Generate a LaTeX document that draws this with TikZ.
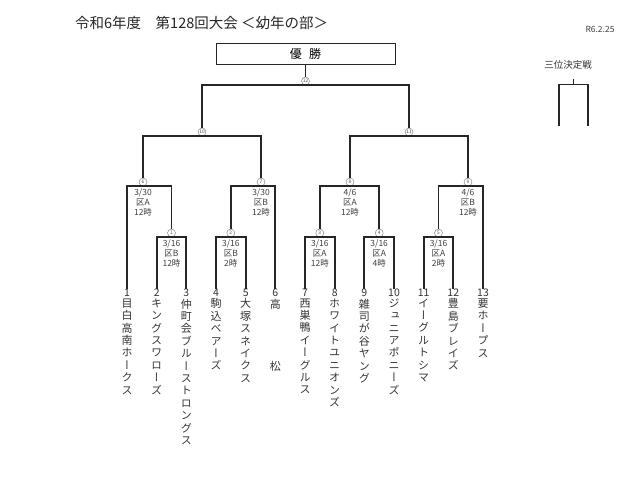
\documentclass[tikz,border=0pt]{standalone}
\usepackage{fontspec}
\newfontfamily\jpfont{Noto Sans CJK JP}
\newfontfamily\jptate[RawFeature=+vert]{Noto Sans CJK JP}
\usetikzlibrary{positioning}

\makeatletter
\newcommand\tate[1]{\vtop{\baselineskip=12.4pt\@tfor\tc:=#1\do{\hbox to 11pt{\hss\tc\hss}}}}
\makeatother

\begin{document}
\begin{tikzpicture}[x=1pt,y=-1pt,
	roundnode/.style={circle,draw=black!55,fill=white,inner sep=0pt,minimum size=8pt,text=black!70,font=\jpfont\fontsize{4.8}{5}\selectfont},
	teamno/.style={inner sep=0pt,text=black!80,font=\jpfont\fontsize{10.5}{11}\selectfont},
	teamname/.style={inner sep=0pt,text=black!80,font=\jptate\fontsize{11}{12.4}\selectfont},
	info/.style={inner sep=0pt,align=center,text=black!75,font=\jpfont\fontsize{8.5}{10.4}\selectfont},
	bracket/.style={line width=1.8pt,black!85}]
		\useasboundingbox (0,0) rectangle (640,479);

		\node[anchor=west,inner sep=0pt,text=black!85,font=\jpfont\fontsize{14.5}{15}\selectfont]	(title)	at (75,23)		{令和6年度　第128回大会 ＜幼年の部＞};
		\node[inner sep=0pt,text=black!75,font=\jpfont\fontsize{8.5}{9}\selectfont]		(date)	at (600,29)		{R6.2.25};
		\node[draw=black!85,line width=0.8pt,minimum width=179pt,minimum height=21pt,font=\jpfont\fontsize{12}{13}\selectfont]	(win)	at (305.5,53.5)	{優\hspace{0.6em}勝};
		\node[inner sep=0pt,text=black!80,font=\jpfont\fontsize{9.5}{10}\selectfont]		(third)	at (568,65)		{三位決定戦};

		\node[roundnode]	(12)	at (305.5,81)	{12};
		\node[roundnode]	(10)	at (202,132)	{10};
		\node[roundnode]	(11)	at (409,132)	{11};
		\node[roundnode]	(6)		at (143,182)	{6};
		\node[roundnode]	(7)		at (261,182)	{7};
		\node[roundnode]	(8)		at (350,182)	{8};
		\node[roundnode]	(9)		at (468,182)	{9};
		\node[roundnode]	(1)		at (171.5,233)	{1};
		\node[roundnode]	(2)		at (230.8,233)	{2};
		\node[roundnode]	(3)		at (319.8,233)	{3};
		\node[roundnode]	(4)		at (379.2,233)	{4};
		\node[roundnode]	(5)		at (438.5,233)	{5};

		\node[info,below=2pt of 6]	(info6)	{3/30\\区A\\12時};
		\node[info,below=2pt of 7]	(info7)	{3/30\\区B\\12時};
		\node[info,below=2pt of 8]	(info8)	{4/6\\区A\\12時};
		\node[info,below=2pt of 9]	(info9)	{4/6\\区B\\12時};
		\node[info,below=2pt of 1]	(info1)	{3/16\\区B\\12時};
		\node[info,below=2pt of 2]	(info2)	{3/16\\区B\\2時};
		\node[info,below=2pt of 3]	(info3)	{3/16\\区A\\12時};
		\node[info,below=2pt of 4]	(info4)	{3/16\\区A\\4時};
		\node[info,below=2pt of 5]	(info5)	{3/16\\区A\\2時};

		\node[teamno]	(t1)	at (127,293)	{1};
		\node[teamno]	(t2)	at (156.7,293)	{2};
		\node[teamno]	(t3)	at (186.3,293)	{3};
		\node[teamno]	(t4)	at (216,293)	{4};
		\node[teamno]	(t5)	at (245.7,293)	{5};
		\node[teamno]	(t6)	at (275.3,293)	{6};
		\node[teamno]	(t7)	at (305,293)	{7};
		\node[teamno]	(t8)	at (334.7,293)	{8};
		\node[teamno]	(t9)	at (364.3,293)	{9};
		\node[teamno]	(t10)	at (394,293)	{10};
		\node[teamno]	(t11)	at (423.7,293)	{11};
		\node[teamno]	(t12)	at (453.3,293)	{12};
		\node[teamno]	(t13)	at (483,293)	{13};

		\node[teamname,below=1.5pt of t1]	(n1)	{\tate{目白高南ホークス}};
		\node[teamname,below=1.5pt of t2]	(n2)	{\tate{キングスワローズ}};
		\node[teamname,below=1.5pt of t3]	(n3)	{\tate{仲町会ブルーストロングス}};
		\node[teamname,below=1.5pt of t4]	(n4)	{\tate{駒込ベアーズ}};
		\node[teamname,below=1.5pt of t5]	(n5)	{\tate{大塚スネイクス}};
		\node[teamname,below=1.5pt of t6]	(n6)	{\tate{高　　　　松}};
		\node[teamname,below=1.5pt of t7]	(n7)	{\tate{西巣鴨イーグルス}};
		\node[teamname,below=1.5pt of t8]	(n8)	{\tate{ホワイトユニオンズ}};
		\node[teamname,below=1.5pt of t9]	(n9)	{\tate{雑司が谷ヤング}};
		\node[teamname,below=1.5pt of t10]	(n10)	{\tate{ジュニアポニーズ}};
		\node[teamname,below=1.5pt of t11]	(n11)	{\tate{イーグルトシマ}};
		\node[teamname,below=1.5pt of t12]	(n12)	{\tate{豊島ブレイズ}};
		\node[teamname,below=1.5pt of t13]	(n13)	{\tate{要ホープス}};

		\coordinate	(q0)	at (573.5,79);
		\coordinate	(q)		at (573.5,84.5);
		\coordinate	(q1)	at (559,126);
		\coordinate	(q2)	at (588,126);

		\draw[bracket] (win) -- (12);
		\draw[bracket] (10.north) |- (12.south) -| (11.north);
		\draw[bracket] (6.north) |- (10.south) -| (7.north);
		\draw[bracket] (8.north) |- (11.south) -| (9.north);
		\draw[bracket] (t1.north) |- (6.south) -| (1.north);
		\draw[bracket] (2.north) |- (7.south) -| (t6.north);
		\draw[bracket] (3.north) |- (8.south) -| (4.north);
		\draw[bracket] (5.north) |- (9.south) -| (t13.north);
		\draw[bracket] (t2.north) |- (1.south) -| (t3.north);
		\draw[bracket] (t4.north) |- (2.south) -| (t5.north);
		\draw[bracket] (t7.north) |- (3.south) -| (t8.north);
		\draw[bracket] (t9.north) |- (4.south) -| (t10.north);
		\draw[bracket] (t11.north) |- (5.south) -| (t12.north);
		\draw[bracket] (q0) -- (q);
		\draw[bracket] (q1) |- (q) -| (q2);
	\end{tikzpicture}
\end{document}
